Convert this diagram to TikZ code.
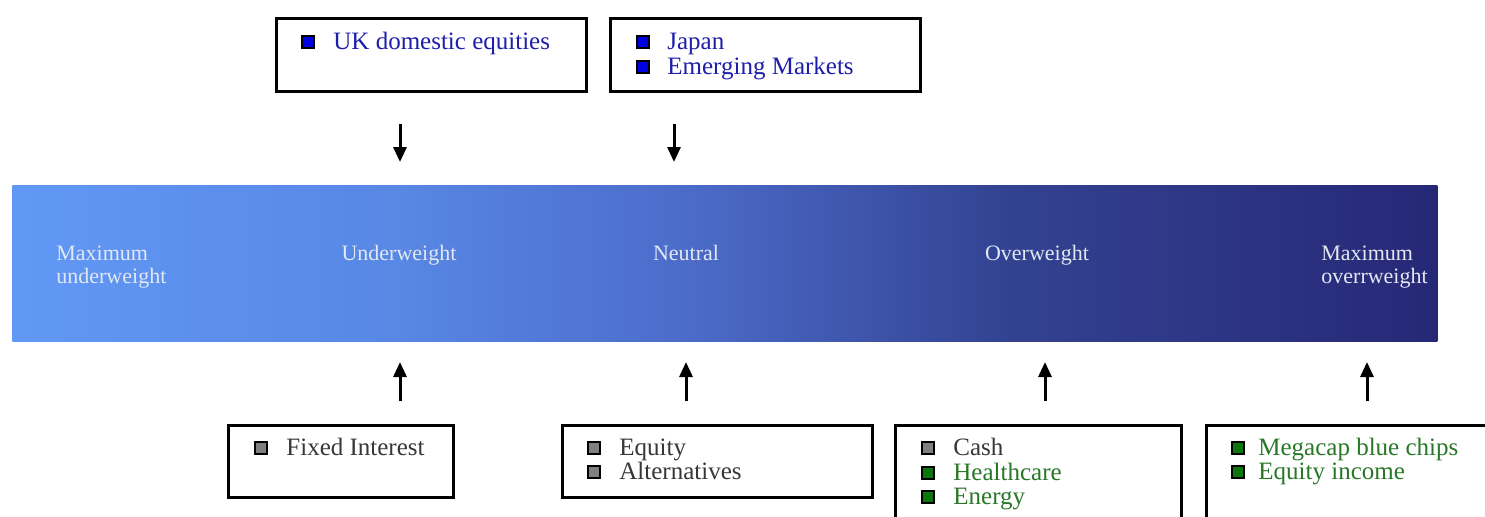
\documentclass[tikz,border=0pt]{standalone}
\usepackage{fontspec}
\setmainfont{Liberation Serif}
\usetikzlibrary{arrows.meta}
\definecolor{bc0}{RGB}{97,152,246}
\definecolor{bc1}{RGB}{88,135,228}
\definecolor{bc2}{RGB}{76,108,202}
\definecolor{bc3}{RGB}{50,66,145}
\definecolor{bc4}{RGB}{38,40,118}
\definecolor{barlabel}{RGB}{226,232,242}
\definecolor{bluefill}{RGB}{0,0,225}
\definecolor{bluetext}{RGB}{30,30,170}
\definecolor{grayfill}{RGB}{128,128,128}
\definecolor{graytext}{RGB}{55,55,55}
\definecolor{greenfill}{RGB}{10,120,10}
\definecolor{greentext}{RGB}{40,120,40}
\pgfdeclarehorizontalshading{barshade}{100bp}{color(0bp)=(bc0); color(25bp)=(bc0); color(38.5bp)=(bc1); color(48.5bp)=(bc2); color(60bp)=(bc3); color(75bp)=(bc4); color(100bp)=(bc4)}
\tikzset{
  box/.style={draw=black, line width=1.5pt, fill=white, anchor=north west, inner sep=0pt},
  bul/.style={draw=black, line width=1pt, minimum size=6.3pt, inner sep=0pt},
  item/.style={anchor=base west, inner sep=0pt, font=\fontsize{12.5}{12.5}\selectfont},
  barlbl/.style={text=barlabel, inner sep=0pt, font=\fontsize{11}{11.5}\selectfont},
  arr/.style={line width=1.5pt, -{Triangle[width=6.5pt,length=7.5pt]}}
}
\begin{document}
\begin{tikzpicture}[x=0.5pt,y=-0.5pt]
\useasboundingbox (0,0) rectangle (1485,516);
\clip (0,0) rectangle (1485,516);
\fill[white] (0,0) rectangle (1485,516);
% bar
\node[anchor=north west, minimum width=712.5pt, minimum height=78pt, inner sep=0pt, shading=barshade] (bar) at (12,185) {};
\node[barlbl, anchor=base west, align=left] (lmu) at (56,283) {Maximum\\underweight};
\node[barlbl, anchor=base] (lu) at (399,260) {Underweight};
\node[barlbl, anchor=base] (ln) at (686,260) {Neutral};
\node[barlbl, anchor=base] (lo) at (1037,260) {Overweight};
\node[barlbl, anchor=base west, align=left] (lmo) at (1321,283) {Maximum\\overrweight};
% top boxes
\node[box, minimum width=155pt, minimum height=36.5pt] (t1) at (275,17) {};
\node[bul, fill=bluefill] (t1b1) at (308,42) {};
\node[item, text=bluetext] (t1i1) at (333,49) {UK domestic equities};
\node[box, minimum width=155pt, minimum height=36.5pt] (t2) at (609,17) {};
\node[bul, fill=bluefill] (t2b1) at (643,42) {};
\node[item, text=bluetext] (t2i1) at (667,49) {Japan};
\node[bul, fill=bluefill] (t2b2) at (643,67) {};
\node[item, text=bluetext] (t2i2) at (667,74) {Emerging Markets};
% down arrows
\coordinate (d1s) at (400,124); \coordinate (d1e) at (400,162);
\coordinate (d2s) at (674,124); \coordinate (d2e) at (674,162);
\draw[arr] (d1s) -- (d1e);
\draw[arr] (d2s) -- (d2e);
% up arrows
\coordinate (u1s) at (400,401); \coordinate (u1e) at (400,362);
\coordinate (u2s) at (686,401); \coordinate (u2e) at (686,362);
\coordinate (u3s) at (1045,401); \coordinate (u3e) at (1045,362);
\coordinate (u4s) at (1367,401); \coordinate (u4e) at (1367,362);
\draw[arr] (u1s) -- (u1e);
\draw[arr] (u2s) -- (u2e);
\draw[arr] (u3s) -- (u3e);
\draw[arr] (u4s) -- (u4e);
% bottom boxes
\node[box, minimum width=112.5pt, minimum height=36pt] (b1) at (227,424) {};
\node[bul, fill=grayfill] (b1b1) at (261,448) {};
\node[item, text=graytext] (b1i1) at (286,455) {Fixed Interest};
\node[box, minimum width=155pt, minimum height=36pt] (b2) at (561,424) {};
\node[bul, fill=grayfill] (b2b1) at (594,448) {};
\node[item, text=graytext] (b2i1) at (619,455) {Equity};
\node[bul, fill=grayfill] (b2b2) at (594,472) {};
\node[item, text=graytext] (b2i2) at (619,479) {Alternatives};
\node[box, minimum width=143pt, minimum height=60pt] (b3) at (894,424) {};
\node[bul, fill=grayfill] (b3b1) at (928,448) {};
\node[item, text=graytext] (b3i1) at (953,455) {Cash};
\node[bul, fill=greenfill] (b3b2) at (928,473) {};
\node[item, text=greentext] (b3i2) at (953,480) {Healthcare};
\node[bul, fill=greenfill] (b3b3) at (928,497) {};
\node[item, text=greentext] (b3i3) at (953,504) {Energy};
\node[box, minimum width=160pt, minimum height=60pt] (b4) at (1205,424) {};
\node[bul, fill=greenfill] (b4b1) at (1238,448) {};
\node[item, text=greentext] (b4i1) at (1258,455) {Megacap blue chips};
\node[bul, fill=greenfill] (b4b2) at (1238,472) {};
\node[item, text=greentext] (b4i2) at (1258,479) {Equity income};
\end{tikzpicture}
\end{document}
